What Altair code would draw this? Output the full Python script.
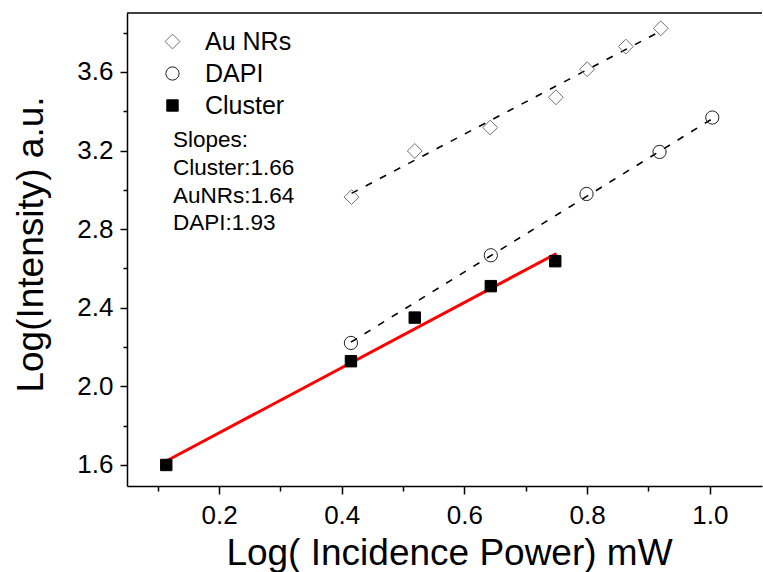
import altair as alt
import pandas as pd

# ---- data ----
series_names = ["Au NRs", "DAPI", "Cluster"]

aunr_x = [0.416, 0.519, 0.642, 0.749, 0.800, 0.863, 0.920]
aunr_y = [2.963, 3.198, 3.317, 3.471, 3.614, 3.729, 3.822]

dapi_x = [0.415, 0.643, 0.799, 0.918, 1.004]
dapi_y = [2.221, 2.667, 2.979, 3.193, 3.368]

cluster_x = [0.114, 0.415, 0.519, 0.643, 0.748]
cluster_y = [1.600, 2.128, 2.350, 2.510, 2.637]

# linear fits (end points)
aunr_fit_x = [0.416, 0.920]
aunr_fit_y = [2.982, 3.808]
dapi_fit_x = [0.415, 1.004]
dapi_fit_y = [2.225, 3.362]
cluster_fit_x = [0.114, 0.750]
cluster_fit_y = [1.620, 2.676]

slopes_text = ["Slopes:", "Cluster:1.66", "AuNRs:1.64", "DAPI:1.93"]

x_ticks = [0.1, 0.2, 0.3, 0.4, 0.5, 0.6, 0.7, 0.8, 0.9, 1.0]
y_ticks = [1.6, 1.8, 2.0, 2.2, 2.4, 2.6, 2.8, 3.0, 3.2, 3.4, 3.6, 3.8]

# ---- tables ----
pts = pd.concat([
    pd.DataFrame({"x": aunr_x, "y": aunr_y, "series": "Au NRs"}),
    pd.DataFrame({"x": dapi_x, "y": dapi_y, "series": "DAPI"}),
    pd.DataFrame({"x": cluster_x, "y": cluster_y, "series": "Cluster"}),
], ignore_index=True)

dash_fits = pd.concat([
    pd.DataFrame({"x": aunr_fit_x, "y": aunr_fit_y, "series": "Au NRs"}),
    pd.DataFrame({"x": dapi_fit_x, "y": dapi_fit_y, "series": "DAPI"}),
], ignore_index=True)
red_fit = pd.DataFrame({"x": cluster_fit_x, "y": cluster_fit_y})

W, H = 635, 473
FONT = "Liberation Sans"

xscale = alt.Scale(domain=[0.05, 1.085], nice=False, zero=False)
yscale = alt.Scale(domain=[1.493, 3.90], nice=False, zero=False)

x_axis = alt.Axis(
    values=x_ticks,
    labelExpr="round(datum.value*10) % 2 == 0 ? format(datum.value, '.1f') : ''",
    tickSize={"condition": {"test": "round(datum.value*10) % 2 == 0", "value": 8}, "value": 5},
    labelPadding=8,
    labelFontSize=26,
    labelFont=FONT,
    labelColor="black",
    labelFlush=False,
    labelOverlap=False,
    title="Log( Incidence Power) mW",
    titleFont=FONT,
    titleFontSize=37,
    titleFontWeight="normal",
    titleColor="black",
    titleX=322,
    titleY=78,
    titleBaseline="alphabetic",
    titleAlign="center",
    grid=False,
    domainColor="black",
    domainWidth=1.5,
    tickColor="black",
    tickWidth=1.5,
)

y_axis = alt.Axis(
    values=y_ticks,
    labelExpr="round(datum.value*5) % 2 == 0 ? format(datum.value, '.1f') : ''",
    tickSize={"condition": {"test": "round(datum.value*5) % 2 == 0", "value": 7}, "value": 4},
    labelPadding=7,
    labelFontSize=26,
    labelFont=FONT,
    labelColor="black",
    labelFlush=False,
    labelOverlap=False,
    title="Log(Intensity) a.u.",
    titleFont=FONT,
    titleFontSize=37,
    titleFontWeight="normal",
    titleColor="black",
    titleAngle=-90,
    titleX=-85,
    titleY=231,
    titleBaseline="alphabetic",
    titleAlign="center",
    grid=False,
    domainColor="black",
    domainWidth=1.5,
    tickColor="black",
    tickWidth=1.5,
)

legend = alt.Legend(
    title=None,
    orient="none",
    legendX=33,
    legendY=16,
    padding=0,
    labelFont=FONT,
    labelFontSize=25,
    labelColor="black",
    labelOffset=20,
    rowPadding=6,
    symbolStrokeWidth=1,
)

points = alt.Chart(pts).mark_point(filled=True, strokeWidth=1, opacity=1).encode(
    x=alt.X("x:Q", scale=xscale, axis=x_axis),
    y=alt.Y("y:Q", scale=yscale, axis=y_axis),
    shape=alt.Shape("series:N", scale=alt.Scale(domain=series_names, range=["diamond", "circle", "square"]), legend=legend),
    fill=alt.Fill("series:N", scale=alt.Scale(domain=series_names, range=["transparent", "transparent", "black"]), legend=legend),
    stroke=alt.Stroke("series:N", scale=alt.Scale(domain=series_names, range=["#707070", "#202020", "black"]), legend=legend),
    size=alt.Size("series:N", scale=alt.Scale(domain=series_names, range=[220, 130, 100]), legend=legend),
)

dashed = alt.Chart(dash_fits).mark_line(color="black", strokeWidth=1.6, strokeDash=[7, 9]).encode(
    x=alt.X("x:Q", scale=xscale),
    y=alt.Y("y:Q", scale=yscale),
    detail="series:N",
)

red = alt.Chart(red_fit).mark_line(color="#ff0000", strokeWidth=3).encode(
    x=alt.X("x:Q", scale=xscale),
    y=alt.Y("y:Q", scale=yscale),
)

top_border = alt.Chart(pd.DataFrame({"a": [0]})).mark_rule(color="black", strokeWidth=1.5).encode(
    x=alt.value(0), x2=alt.value(W), y=alt.value(0)
)

slopes = alt.Chart(pd.DataFrame({"a": [0]})).mark_text(
    text="\n".join(slopes_text),
    lineBreak="\n",
    lineHeight=27.8,
    align="left",
    baseline="alphabetic",
    font=FONT,
    fontSize=22.5,
    color="black",
).encode(x=alt.value(46), y=alt.value(134))

chart = alt.layer(red, dashed, points, top_border, slopes).properties(
    width=W,
    height=H,
    autosize=alt.AutoSizeParams(type="none"),
    padding={"left": 127, "top": 13, "right": 1, "bottom": 86},
    background="white",
).configure_view(stroke=None)

chart.save("out.html", embed_options={"renderer": "svg", "actions": False})
